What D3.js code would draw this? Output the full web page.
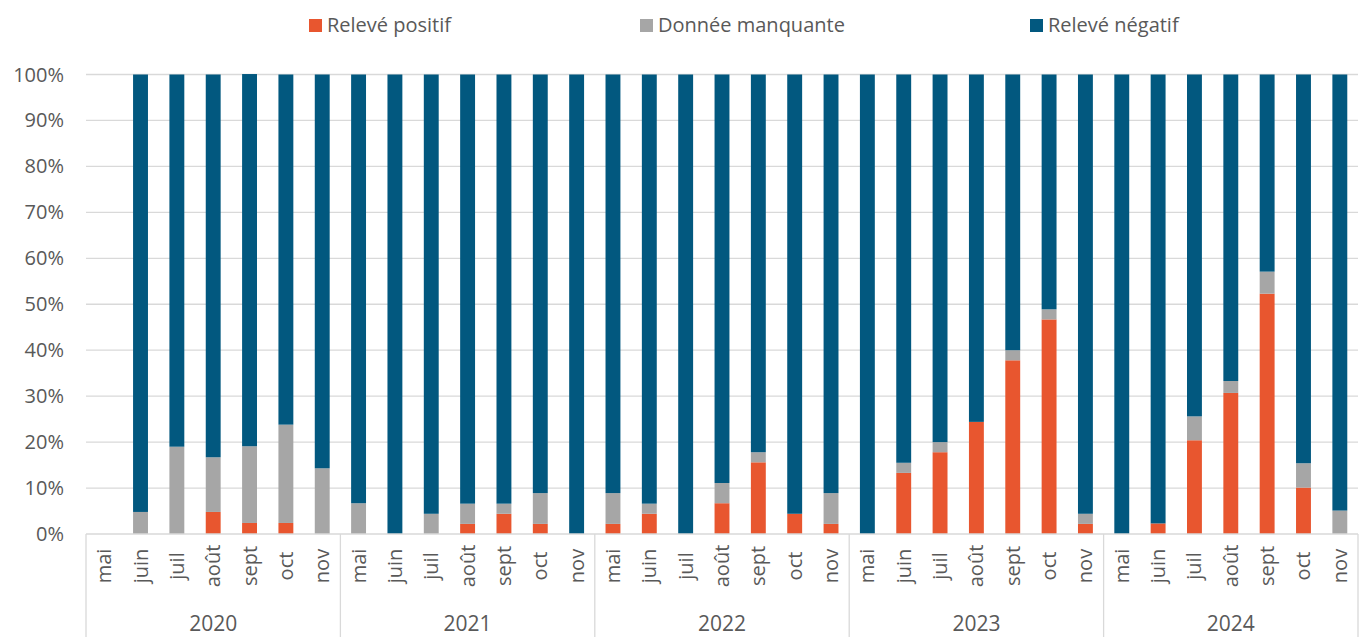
<!DOCTYPE html>
<html>
<head>
<meta charset="utf-8">
<script src="https://cdn.jsdelivr.net/npm/d3@7"></script>
<style>
  body { margin: 0; background: #fff; }
  text { font-family: "Open Sans", Roboto, sans-serif; fill: #595959; }
</style>
</head>
<body>
<div class="container"></div>
<script>
const years = ["2020", "2021", "2022", "2023", "2024"];
const months = ["mai", "juin", "juil", "août", "sept", "oct", "nov"];
const seriesNames = ["Relevé positif", "Donnée manquante", "Relevé négatif"];
// % per month, 2020 mai has no data
const positive = [
    null, 0, 0, 4.8, 2.4, 2.4, 0,
    0, 0, 0, 2.2, 4.4, 2.2, 0,
    2.2, 4.4, 0, 6.7, 15.6, 4.4, 2.2,
    0, 13.3, 17.8, 24.4, 37.8, 46.7, 2.2,
    0, 2.3, 20.4, 30.7, 52.3, 10.1, 0
];
const missing = [
    null, 4.8, 19.0, 11.9, 16.7, 21.4, 14.3,
    6.7, 0, 4.4, 4.4, 2.2, 6.7, 0,
    6.7, 2.2, 0, 4.4, 2.2, 0, 6.7,
    0, 2.2, 2.2, 0, 2.2, 2.2, 2.2,
    0, 0, 5.2, 2.6, 4.8, 5.3, 5.1
];
const negative = [
    null, 95.2, 81.0, 83.3, 81.0, 76.2, 85.7,
    93.3, 100, 95.6, 93.4, 93.4, 91.1, 100,
    91.1, 93.4, 100, 88.9, 82.2, 95.6, 91.1,
    100, 84.5, 80.0, 75.6, 60.0, 51.1, 95.6,
    100, 97.7, 74.4, 66.7, 42.9, 84.6, 94.9
];
const yTicks = [0, 10, 20, 30, 40, 50, 60, 70, 80, 90, 100];

const width = 1363, height = 637;
const colors = ["#E8562F", "#A6A6A6", "#02587F"];
const plotLeft = 86, plotRight = 1358, plotTop = 74.5, plotBottom = 534;

const table = [];
years.forEach((yr, yi) => months.forEach((m, mi) => {
    const i = yi * 7 + mi;
    table.push({key: yr + "-" + m, year: yr, month: m,
                "Relevé positif": positive[i] || 0,
                "Donnée manquante": missing[i] || 0,
                "Relevé négatif": negative[i] || 0});
}));

const svg = d3.select(".container")
              .append("svg")
              .attr("width", width)
              .attr("height", height);

const x = d3.scaleBand()
            .domain(table.map(d => d.key))
            .range([plotLeft, plotRight])
            .paddingInner(0.59)
            .paddingOuter(0.295);
const y = d3.scaleLinear()
            .domain([0, 100])
            .range([plotBottom, plotTop]);

// gridlines
svg.append("g")
   .selectAll("line")
   .data(yTicks.slice(1))
   .join("line")
   .attr("x1", plotLeft)
   .attr("x2", plotRight)
   .attr("y1", d => y(d))
   .attr("y2", d => y(d))
   .attr("stroke", "#D9D9D9")
   .attr("stroke-width", 1.3);

svg.append("g")
   .selectAll("text")
   .data(yTicks)
   .join("text")
   .attr("x", 64)
   .attr("y", d => y(d))
   .attr("dy", "0.35em")
   .attr("text-anchor", "end")
   .attr("font-size", 20)
   .text(d => d + "%");

const stacked = d3.stack().keys(seriesNames)(table);

svg.append("g")
   .selectAll("g")
   .data(stacked)
   .join("g")
   .attr("fill", (d, i) => colors[i])
   .selectAll("rect")
   .data(d => d)
   .join("rect")
   .attr("x", d => x(d.data.key))
   .attr("width", x.bandwidth())
   .attr("y", d => y(d[1]))
   .attr("height", d => y(d[0]) - y(d[1]));

// category axis
svg.append("line")
   .attr("x1", plotLeft).attr("x2", plotRight)
   .attr("y1", plotBottom).attr("y2", plotBottom)
   .attr("stroke", "#D9D9D9")
   .attr("stroke-width", 1.3);

const step = x.step();
svg.append("g")
   .selectAll("line")
   .data(d3.range(years.length + 1))
   .join("line")
   .attr("x1", i => plotLeft + i * 7 * step)
   .attr("x2", i => plotLeft + i * 7 * step)
   .attr("y1", plotBottom)
   .attr("y2", height)
   .attr("stroke", "#D9D9D9")
   .attr("stroke-width", 1.3);

svg.append("g")
   .selectAll("text")
   .data(table)
   .join("text")
   .attr("transform", d => `translate(${x(d.key) + x.bandwidth() / 2},566) rotate(-90)`)
   .attr("dy", "0.35em")
   .attr("text-anchor", "middle")
   .attr("font-size", 20)
   .text(d => d.month);

svg.append("g")
   .selectAll("text")
   .data(years)
   .join("text")
   .attr("x", (d, i) => plotLeft + (i + 0.5) * 7 * step)
   .attr("y", 631)
   .attr("text-anchor", "middle")
   .attr("font-size", 21)
   .text(d => d);

// legend
const legendX = [309, 640, 1030];
const legend = svg.append("g")
                  .selectAll("g")
                  .data(seriesNames)
                  .join("g")
                  .attr("transform", (d, i) => `translate(${legendX[i]},25)`);
legend.append("rect")
      .attr("x", 0)
      .attr("y", -6)
      .attr("width", 13)
      .attr("height", 13)
      .attr("fill", (d, i) => colors[i]);
legend.append("text")
      .attr("x", 18)
      .attr("dy", "0.35em")
      .attr("font-size", 20)
      .text(d => d);
</script>
</body>
</html>
